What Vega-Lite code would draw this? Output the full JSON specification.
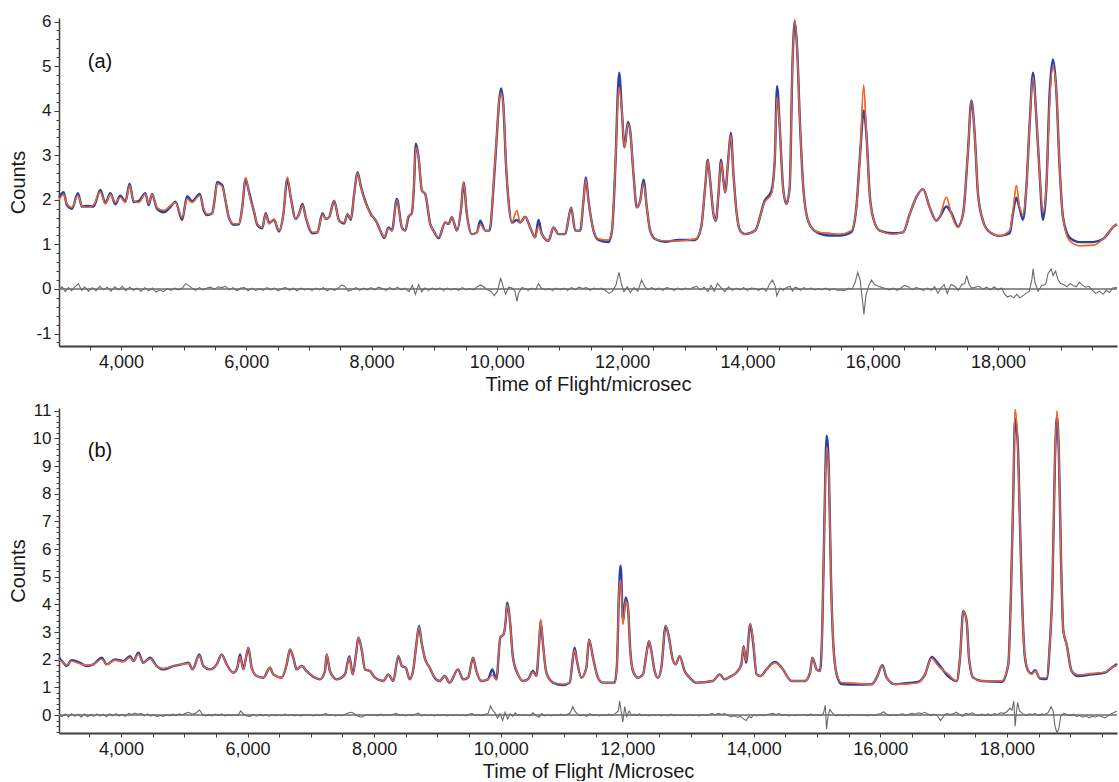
{
"$schema": "https://vega.github.io/schema/vega-lite/v6.json",
"padding": {"left": 8, "top": 12, "right": 2, "bottom": 0},
"spacing": 7,
"config": {
  "font": "Liberation Sans",
  "view": {"stroke": null},
  "axis": {"grid": false, "labelFont": "Liberation Sans", "titleFont": "Liberation Sans", "labelColor": "#1a1a1a", "titleColor": "#1a1a1a", "titleFontWeight": "normal", "domainColor": "#3c3c3c", "tickColor": "#3c3c3c", "labelOverlap": false, "labelFlush": false}
},
"datasets": {
"a": [
{"t":3010,"f":2.0,"o":2.05},{"t":3085,"f":2.12,"o":2.17},{"t":3136,"f":1.91,"o":1.88},{"t":3216,"f":1.83,"o":1.8},{"t":3312,"f":2.1,"o":2.15},{"t":3376,"f":1.87,"o":1.85},{"t":3456,"f":1.83,"o":1.86},{"t":3563,"f":1.89,"o":1.85},{"t":3670,"f":2.18,"o":2.22},{"t":3750,"f":1.91,"o":1.93},{"t":3830,"f":2.12,"o":2.15},{"t":3909,"f":1.94,"o":1.9},{"t":3989,"f":2.06,"o":2.09},{"t":4069,"f":1.94,"o":1.96},{"t":4138,"f":2.32,"o":2.36},{"t":4202,"f":1.98,"o":1.95},{"t":4282,"f":1.94,"o":1.97},{"t":4389,"f":2.13,"o":2.15},{"t":4442,"f":1.91,"o":1.88},{"t":4495,"f":2.12,"o":2.13},{"t":4575,"f":1.83,"o":1.8},{"t":4682,"f":1.76,"o":1.72},{"t":4789,"f":1.87,"o":1.84},{"t":4869,"f":1.94,"o":1.96},{"t":4975,"f":1.6,"o":1.55},{"t":5055,"f":2.02,"o":2.08},{"t":5135,"f":1.94,"o":1.97},{"t":5258,"f":2.1,"o":2.13},{"t":5322,"f":1.79,"o":1.76},{"t":5375,"f":1.68,"o":1.66},{"t":5455,"f":1.68,"o":1.7},{"t":5492,"f":1.98,"o":1.98},{"t":5535,"f":2.36,"o":2.4},{"t":5615,"f":2.3,"o":2.33},{"t":5668,"f":1.98,"o":1.98},{"t":5722,"f":1.61,"o":1.6},{"t":5802,"f":1.46,"o":1.44},{"t":5882,"f":1.46,"o":1.45},{"t":5935,"f":1.83,"o":1.83},{"t":5989,"f":2.5,"o":2.47},{"t":6026,"f":2.28,"o":2.28},{"t":6069,"f":1.98,"o":2.03},{"t":6122,"f":1.76,"o":1.74},{"t":6175,"f":1.46,"o":1.44},{"t":6255,"f":1.38,"o":1.36},{"t":6309,"f":1.68,"o":1.7},{"t":6362,"f":1.46,"o":1.48},{"t":6442,"f":1.57,"o":1.55},{"t":6522,"f":1.31,"o":1.29},{"t":6592,"f":1.68,"o":1.68},{"t":6655,"f":2.51,"o":2.47},{"t":6709,"f":2.06,"o":2.06},{"t":6789,"f":1.57,"o":1.57},{"t":6842,"f":1.68,"o":1.68},{"t":6896,"f":1.88,"o":1.91},{"t":6949,"f":1.61,"o":1.61},{"t":7056,"f":1.27,"o":1.25},{"t":7136,"f":1.27,"o":1.27},{"t":7216,"f":1.68,"o":1.7},{"t":7269,"f":1.57,"o":1.57},{"t":7322,"f":1.61,"o":1.61},{"t":7402,"f":1.98,"o":1.98},{"t":7482,"f":1.53,"o":1.53},{"t":7562,"f":1.49,"o":1.47},{"t":7615,"f":1.68,"o":1.68},{"t":7669,"f":1.57,"o":1.55},{"t":7722,"f":2.13,"o":2.13},{"t":7775,"f":2.6,"o":2.62},{"t":7829,"f":2.28,"o":2.3},{"t":7909,"f":1.91,"o":1.93},{"t":7989,"f":1.68,"o":1.68},{"t":8069,"f":1.53,"o":1.53},{"t":8149,"f":1.28,"o":1.28},{"t":8202,"f":1.16,"o":1.14},{"t":8271,"f":1.36,"o":1.38},{"t":8324,"f":1.31,"o":1.31},{"t":8404,"f":2.0,"o":2.02},{"t":8484,"f":1.38,"o":1.38},{"t":8537,"f":1.31,"o":1.31},{"t":8590,"f":1.64,"o":1.62},{"t":8643,"f":1.68,"o":1.7},{"t":8675,"f":2.28,"o":2.26},{"t":8707,"f":3.18,"o":3.26},{"t":8750,"f":2.96,"o":2.96},{"t":8803,"f":2.21,"o":2.21},{"t":8856,"f":2.13,"o":2.13},{"t":8936,"f":1.46,"o":1.46},{"t":8989,"f":1.31,"o":1.31},{"t":9069,"f":1.16,"o":1.14},{"t":9175,"f":1.49,"o":1.49},{"t":9229,"f":1.46,"o":1.46},{"t":9282,"f":1.61,"o":1.61},{"t":9362,"f":1.31,"o":1.31},{"t":9431,"f":1.83,"o":1.83},{"t":9468,"f":2.39,"o":2.39},{"t":9521,"f":1.68,"o":1.68},{"t":9601,"f":1.23,"o":1.23},{"t":9681,"f":1.27,"o":1.27},{"t":9734,"f":1.45,"o":1.53},{"t":9814,"f":1.31,"o":1.31},{"t":9883,"f":1.31,"o":1.31},{"t":9947,"f":2.36,"o":2.3},{"t":10000,"f":3.48,"o":3.45},{"t":10037,"f":4.23,"o":4.23},{"t":10069,"f":4.4,"o":4.5},{"t":10106,"f":4.08,"o":4.08},{"t":10144,"f":2.88,"o":2.85},{"t":10186,"f":1.98,"o":1.98},{"t":10239,"f":1.49,"o":1.49},{"t":10319,"f":1.76,"o":1.55},{"t":10372,"f":1.49,"o":1.49},{"t":10452,"f":1.62,"o":1.62},{"t":10532,"f":1.38,"o":1.38},{"t":10612,"f":1.16,"o":1.16},{"t":10665,"f":1.4,"o":1.55},{"t":10718,"f":1.23,"o":1.23},{"t":10825,"f":1.08,"o":1.08},{"t":10904,"f":1.38,"o":1.38},{"t":10984,"f":1.23,"o":1.23},{"t":11091,"f":1.23,"o":1.23},{"t":11186,"f":1.83,"o":1.83},{"t":11250,"f":1.31,"o":1.31},{"t":11330,"f":1.31,"o":1.31},{"t":11383,"f":1.98,"o":1.98},{"t":11420,"f":2.45,"o":2.51},{"t":11463,"f":1.98,"o":1.98},{"t":11543,"f":1.31,"o":1.31},{"t":11623,"f":1.12,"o":1.1},{"t":11782,"f":1.1,"o":1.05},{"t":11835,"f":1.31,"o":1.28},{"t":11899,"f":3.03,"o":3.03},{"t":11931,"f":4.23,"o":4.4},{"t":11952,"f":4.53,"o":4.85},{"t":11995,"f":4.01,"o":4.01},{"t":12038,"f":3.18,"o":3.18},{"t":12091,"f":3.71,"o":3.75},{"t":12128,"f":3.56,"o":3.56},{"t":12181,"f":2.58,"o":2.58},{"t":12234,"f":1.83,"o":1.83},{"t":12288,"f":1.98,"o":1.98},{"t":12341,"f":2.38,"o":2.45},{"t":12394,"f":1.83,"o":1.83},{"t":12447,"f":1.31,"o":1.31},{"t":12527,"f":1.12,"o":1.12},{"t":12687,"f":1.08,"o":1.06},{"t":12899,"f":1.08,"o":1.1},{"t":13165,"f":1.12,"o":1.1},{"t":13261,"f":1.38,"o":1.38},{"t":13325,"f":2.28,"o":2.28},{"t":13368,"f":2.88,"o":2.9},{"t":13405,"f":2.43,"o":2.43},{"t":13458,"f":1.68,"o":1.68},{"t":13495,"f":1.53,"o":1.53},{"t":13538,"f":2.13,"o":2.13},{"t":13580,"f":2.85,"o":2.9},{"t":13618,"f":2.43,"o":2.43},{"t":13644,"f":2.17,"o":2.17},{"t":13697,"f":2.96,"o":2.96},{"t":13735,"f":3.45,"o":3.5},{"t":13777,"f":2.58,"o":2.58},{"t":13830,"f":1.68,"o":1.68},{"t":13884,"f":1.31,"o":1.31},{"t":13963,"f":1.23,"o":1.23},{"t":14123,"f":1.31,"o":1.31},{"t":14276,"f":1.95,"o":1.98},{"t":14383,"f":2.13,"o":2.2},{"t":14436,"f":2.88,"o":2.88},{"t":14473,"f":4.31,"o":4.55},{"t":14516,"f":3.63,"o":3.63},{"t":14569,"f":2.28,"o":2.28},{"t":14622,"f":1.91,"o":1.91},{"t":14675,"f":2.28,"o":2.28},{"t":14718,"f":4.98,"o":4.98},{"t":14755,"f":6.04,"o":6.0},{"t":14792,"f":5.44,"o":5.44},{"t":14835,"f":3.86,"o":3.86},{"t":14888,"f":2.36,"o":2.36},{"t":14941,"f":1.68,"o":1.68},{"t":15021,"f":1.38,"o":1.38},{"t":15154,"f":1.27,"o":1.24},{"t":15300,"f":1.25,"o":1.2},{"t":15473,"f":1.23,"o":1.2},{"t":15660,"f":1.31,"o":1.28},{"t":15739,"f":1.83,"o":1.83},{"t":15803,"f":3.11,"o":3.11},{"t":15856,"f":4.57,"o":4.0},{"t":15899,"f":3.48,"o":3.48},{"t":15952,"f":2.13,"o":2.13},{"t":16005,"f":1.61,"o":1.61},{"t":16112,"f":1.31,"o":1.31},{"t":16325,"f":1.23,"o":1.25},{"t":16484,"f":1.27,"o":1.27},{"t":16591,"f":1.68,"o":1.68},{"t":16697,"f":2.06,"o":2.06},{"t":16803,"f":2.24,"o":2.24},{"t":16910,"f":1.83,"o":1.83},{"t":17016,"f":1.53,"o":1.53},{"t":17069,"f":1.61,"o":1.61},{"t":17176,"f":2.06,"o":1.85},{"t":17256,"f":1.68,"o":1.7},{"t":17362,"f":1.38,"o":1.4},{"t":17442,"f":1.68,"o":1.68},{"t":17522,"f":3.11,"o":3.11},{"t":17575,"f":4.23,"o":4.23},{"t":17628,"f":3.48,"o":3.48},{"t":17681,"f":2.13,"o":2.13},{"t":17761,"f":1.53,"o":1.53},{"t":17841,"f":1.31,"o":1.31},{"t":18027,"f":1.19,"o":1.19},{"t":18187,"f":1.31,"o":1.25},{"t":18240,"f":1.76,"o":1.7},{"t":18293,"f":2.32,"o":2.05},{"t":18346,"f":1.83,"o":1.8},{"t":18399,"f":1.68,"o":1.55},{"t":18453,"f":2.28,"o":2.28},{"t":18506,"f":3.71,"o":3.71},{"t":18559,"f":4.76,"o":4.85},{"t":18612,"f":3.86,"o":3.86},{"t":18665,"f":2.58,"o":2.58},{"t":18718,"f":1.72,"o":1.55},{"t":18772,"f":2.28,"o":2.28},{"t":18825,"f":4.23,"o":4.4},{"t":18878,"f":4.98,"o":5.15},{"t":18931,"f":4.46,"o":4.46},{"t":18984,"f":2.73,"o":2.73},{"t":19038,"f":1.61,"o":1.61},{"t":19144,"f":1.08,"o":1.15},{"t":19304,"f":0.97,"o":1.05},{"t":19517,"f":0.98,"o":1.05},{"t":19676,"f":1.12,"o":1.12},{"t":19862,"f":1.42,"o":1.42},{"t":19900,"f":1.45,"o":1.45}
],
"b": [
{"t":3020,"f":2.0,"o":2.07},{"t":3089,"f":1.89,"o":1.89},{"t":3141,"f":1.8,"o":1.77},{"t":3220,"f":1.95,"o":1.98},{"t":3352,"f":1.85,"o":1.89},{"t":3458,"f":1.8,"o":1.77},{"t":3563,"f":1.83,"o":1.83},{"t":3695,"f":2.02,"o":2.07},{"t":3774,"f":1.83,"o":1.83},{"t":3905,"f":1.98,"o":2.01},{"t":4037,"f":1.93,"o":1.95},{"t":4142,"f":2.08,"o":2.13},{"t":4195,"f":1.95,"o":1.95},{"t":4274,"f":2.2,"o":2.25},{"t":4353,"f":1.89,"o":1.89},{"t":4458,"f":2.04,"o":2.07},{"t":4564,"f":1.77,"o":1.77},{"t":4669,"f":1.68,"o":1.65},{"t":4827,"f":1.77,"o":1.77},{"t":4959,"f":1.83,"o":1.83},{"t":5064,"f":1.87,"o":1.89},{"t":5132,"f":1.65,"o":1.65},{"t":5238,"f":2.15,"o":2.19},{"t":5301,"f":1.77,"o":1.77},{"t":5406,"f":1.65,"o":1.65},{"t":5512,"f":1.83,"o":1.83},{"t":5591,"f":2.19,"o":2.19},{"t":5670,"f":1.83,"o":1.83},{"t":5775,"f":1.53,"o":1.53},{"t":5838,"f":1.71,"o":1.71},{"t":5880,"f":2.12,"o":2.19},{"t":5933,"f":1.65,"o":1.65},{"t":5975,"f":2.07,"o":2.07},{"t":6012,"f":2.43,"o":2.43},{"t":6065,"f":1.71,"o":1.71},{"t":6144,"f":1.41,"o":1.41},{"t":6249,"f":1.35,"o":1.35},{"t":6354,"f":1.71,"o":1.71},{"t":6407,"f":1.47,"o":1.47},{"t":6539,"f":1.35,"o":1.35},{"t":6618,"f":1.83,"o":1.83},{"t":6670,"f":2.37,"o":2.37},{"t":6723,"f":2.07,"o":2.07},{"t":6776,"f":1.65,"o":1.65},{"t":6855,"f":1.77,"o":1.77},{"t":6934,"f":1.59,"o":1.59},{"t":7065,"f":1.35,"o":1.35},{"t":7144,"f":1.29,"o":1.29},{"t":7223,"f":1.59,"o":1.59},{"t":7250,"f":2.19,"o":2.19},{"t":7302,"f":1.59,"o":1.59},{"t":7408,"f":1.29,"o":1.29},{"t":7539,"f":1.47,"o":1.47},{"t":7608,"f":2.08,"o":2.13},{"t":7661,"f":1.47,"o":1.47},{"t":7713,"f":2.19,"o":2.19},{"t":7750,"f":2.8,"o":2.8},{"t":7803,"f":2.37,"o":2.37},{"t":7855,"f":1.65,"o":1.65},{"t":7934,"f":1.59,"o":1.59},{"t":8013,"f":1.35,"o":1.35},{"t":8145,"f":1.23,"o":1.23},{"t":8224,"f":1.47,"o":1.47},{"t":8303,"f":1.23,"o":1.23},{"t":8382,"f":2.13,"o":2.13},{"t":8440,"f":1.77,"o":1.77},{"t":8500,"f":1.71,"o":1.71},{"t":8562,"f":1.29,"o":1.29},{"t":8615,"f":1.59,"o":1.59},{"t":8667,"f":2.55,"o":2.55},{"t":8710,"f":3.18,"o":3.22},{"t":8747,"f":2.67,"o":2.67},{"t":8799,"f":2.07,"o":2.07},{"t":8878,"f":1.71,"o":1.71},{"t":8957,"f":1.35,"o":1.35},{"t":9036,"f":1.23,"o":1.23},{"t":9115,"f":1.41,"o":1.41},{"t":9194,"f":1.17,"o":1.17},{"t":9326,"f":1.65,"o":1.65},{"t":9405,"f":1.29,"o":1.29},{"t":9484,"f":1.35,"o":1.35},{"t":9563,"f":2.07,"o":2.07},{"t":9616,"f":1.59,"o":1.59},{"t":9695,"f":1.23,"o":1.23},{"t":9800,"f":1.29,"o":1.29},{"t":9868,"f":1.45,"o":1.65},{"t":9932,"f":1.29,"o":1.29},{"t":9995,"f":2.8,"o":2.8},{"t":10047,"f":2.92,"o":2.92},{"t":10079,"f":3.4,"o":3.4},{"t":10100,"f":4.0,"o":4.06},{"t":10142,"f":3.52,"o":3.52},{"t":10195,"f":2.07,"o":2.07},{"t":10274,"f":1.47,"o":1.47},{"t":10353,"f":1.23,"o":1.23},{"t":10432,"f":1.29,"o":1.29},{"t":10511,"f":1.55,"o":1.59},{"t":10564,"f":1.41,"o":1.41},{"t":10606,"f":2.55,"o":2.55},{"t":10632,"f":3.46,"o":3.4},{"t":10669,"f":2.55,"o":2.55},{"t":10722,"f":1.53,"o":1.53},{"t":10827,"f":1.17,"o":1.17},{"t":10985,"f":1.11,"o":1.08},{"t":11090,"f":1.17,"o":1.17},{"t":11143,"f":2.07,"o":2.07},{"t":11169,"f":2.35,"o":2.43},{"t":11206,"f":1.95,"o":1.95},{"t":11275,"f":1.35,"o":1.35},{"t":11354,"f":1.71,"o":1.71},{"t":11396,"f":2.73,"o":2.73},{"t":11459,"f":2.07,"o":2.07},{"t":11538,"f":1.35,"o":1.35},{"t":11617,"f":1.17,"o":1.17},{"t":11801,"f":1.17,"o":1.17},{"t":11838,"f":1.83,"o":1.83},{"t":11870,"f":4.48,"o":4.48},{"t":11896,"f":4.9,"o":5.4},{"t":11933,"f":3.28,"o":3.4},{"t":11975,"f":4.12,"o":4.25},{"t":12012,"f":3.88,"o":3.88},{"t":12049,"f":2.31,"o":2.31},{"t":12091,"f":1.59,"o":1.59},{"t":12170,"f":1.35,"o":1.35},{"t":12249,"f":1.47,"o":1.47},{"t":12302,"f":2.19,"o":2.19},{"t":12344,"f":2.67,"o":2.67},{"t":12381,"f":2.31,"o":2.31},{"t":12433,"f":1.59,"o":1.59},{"t":12486,"f":1.35,"o":1.35},{"t":12539,"f":1.71,"o":1.71},{"t":12607,"f":3.22,"o":3.22},{"t":12660,"f":2.8,"o":2.8},{"t":12713,"f":2.07,"o":2.07},{"t":12765,"f":1.83,"o":1.83},{"t":12828,"f":2.13,"o":2.13},{"t":12907,"f":1.59,"o":1.59},{"t":12986,"f":1.35,"o":1.35},{"t":13092,"f":1.17,"o":1.17},{"t":13355,"f":1.23,"o":1.23},{"t":13460,"f":1.47,"o":1.47},{"t":13539,"f":1.29,"o":1.29},{"t":13645,"f":1.41,"o":1.41},{"t":13724,"f":1.53,"o":1.53},{"t":13803,"f":1.83,"o":1.83},{"t":13840,"f":2.45,"o":2.49},{"t":13877,"f":1.95,"o":1.89},{"t":13945,"f":3.28,"o":3.28},{"t":13990,"f":2.7,"o":2.6},{"t":14045,"f":1.47,"o":1.47},{"t":14110,"f":1.41,"o":1.41},{"t":14200,"f":1.65,"o":1.65},{"t":14336,"f":1.89,"o":1.92},{"t":14441,"f":1.71,"o":1.71},{"t":14599,"f":1.23,"o":1.23},{"t":14810,"f":1.23,"o":1.23},{"t":14889,"f":1.53,"o":1.53},{"t":14926,"f":2.07,"o":2.07},{"t":14994,"f":1.65,"o":1.65},{"t":15047,"f":1.59,"o":1.59},{"t":15084,"f":3.28,"o":3.28},{"t":15115,"f":6.89,"o":6.89},{"t":15152,"f":9.72,"o":10.1},{"t":15189,"f":8.58,"o":8.58},{"t":15220,"f":4.96,"o":4.96},{"t":15257,"f":2.55,"o":2.55},{"t":15310,"f":1.47,"o":1.47},{"t":15389,"f":1.17,"o":1.12},{"t":15600,"f":1.15,"o":1.1},{"t":15863,"f":1.11,"o":1.11},{"t":15942,"f":1.35,"o":1.35},{"t":16032,"f":1.77,"o":1.8},{"t":16100,"f":1.35,"o":1.35},{"t":16232,"f":1.11,"o":1.11},{"t":16400,"f":1.12,"o":1.15},{"t":16600,"f":1.17,"o":1.2},{"t":16706,"f":1.47,"o":1.47},{"t":16811,"f":2.05,"o":2.1},{"t":16916,"f":1.77,"o":1.85},{"t":17074,"f":1.47,"o":1.4},{"t":17206,"f":1.23,"o":1.23},{"t":17259,"f":2.07,"o":2.07},{"t":17311,"f":3.76,"o":3.76},{"t":17364,"f":3.4,"o":3.4},{"t":17401,"f":2.07,"o":2.07},{"t":17469,"f":1.35,"o":1.35},{"t":17601,"f":1.23,"o":1.23},{"t":17917,"f":1.23,"o":1.2},{"t":18022,"f":1.83,"o":1.83},{"t":18065,"f":4.48,"o":4.48},{"t":18102,"f":8.1,"o":8.1},{"t":18128,"f":11.05,"o":10.7},{"t":18170,"f":9.9,"o":9.9},{"t":18207,"f":6.89,"o":6.89},{"t":18244,"f":3.88,"o":3.88},{"t":18286,"f":2.07,"o":2.07},{"t":18339,"f":1.59,"o":1.59},{"t":18391,"f":1.47,"o":1.5},{"t":18444,"f":1.59,"o":1.62},{"t":18523,"f":1.35,"o":1.32},{"t":18628,"f":1.35,"o":1.3},{"t":18681,"f":2.67,"o":2.67},{"t":18718,"f":4.48,"o":4.48},{"t":18760,"f":9.3,"o":9.3},{"t":18792,"f":10.99,"o":10.8},{"t":18823,"f":9.3,"o":9.3},{"t":18855,"f":5.69,"o":5.69},{"t":18892,"f":3.04,"o":3.04},{"t":18944,"f":2.55,"o":2.55},{"t":19023,"f":1.59,"o":1.59},{"t":19129,"f":1.45,"o":1.41},{"t":19339,"f":1.5,"o":1.47},{"t":19550,"f":1.55,"o":1.53},{"t":19655,"f":1.71,"o":1.71},{"t":19740,"f":1.8,"o":1.85}
],
"da": [
{"t":3010,"d":-0.02},{"t":3060,"d":0.05},{"t":3110,"d":-0.06},{"t":3160,"d":0.03},{"t":3210,"d":-0.04},{"t":3260,"d":0.04},{"t":3320,"d":0.12},{"t":3370,"d":-0.03},{"t":3420,"d":0.05},{"t":3480,"d":-0.05},{"t":3540,"d":0.03},{"t":3600,"d":-0.04},{"t":3660,"d":0.06},{"t":3720,"d":-0.02},{"t":3780,"d":0.04},{"t":3840,"d":-0.05},{"t":3900,"d":0.05},{"t":3960,"d":-0.02},{"t":4020,"d":0.06},{"t":4080,"d":-0.04},{"t":4140,"d":0.04},{"t":4200,"d":-0.03},{"t":4260,"d":0.02},{"t":4320,"d":-0.05},{"t":4380,"d":0.03},{"t":4440,"d":-0.04},{"t":4500,"d":0.02},{"t":4560,"d":-0.07},{"t":4620,"d":-0.02},{"t":4680,"d":-0.06},{"t":4740,"d":0.01},{"t":4800,"d":-0.03},{"t":4860,"d":0.02},{"t":4920,"d":-0.02},{"t":4980,"d":0.02},{"t":5030,"d":0.12},{"t":5080,"d":0.08},{"t":5130,"d":0.02},{"t":5190,"d":-0.03},{"t":5250,"d":0.03},{"t":5310,"d":-0.02},{"t":5370,"d":0.02},{"t":5430,"d":0.04},{"t":5490,"d":-0.01},{"t":5550,"d":0.05},{"t":5610,"d":0.03},{"t":5670,"d":0.06},{"t":5730,"d":-0.02},{"t":5790,"d":0.03},{"t":5850,"d":-0.04},{"t":5910,"d":0.02},{"t":5970,"d":0.03},{"t":6030,"d":-0.04},{"t":6090,"d":0.02},{"t":6150,"d":-0.03},{"t":6210,"d":0.01},{"t":6270,"d":-0.03},{"t":6330,"d":0.03},{"t":6390,"d":-0.02},{"t":6450,"d":0.02},{"t":6510,"d":-0.04},{"t":6570,"d":0.01},{"t":6630,"d":0.03},{"t":6690,"d":-0.03},{"t":6750,"d":0.02},{"t":6810,"d":-0.04},{"t":6870,"d":0.02},{"t":6930,"d":-0.02},{"t":6990,"d":0.01},{"t":7050,"d":-0.03},{"t":7110,"d":0.02},{"t":7170,"d":-0.02},{"t":7230,"d":0.03},{"t":7290,"d":-0.04},{"t":7350,"d":0.01},{"t":7410,"d":-0.03},{"t":7470,"d":0.02},{"t":7520,"d":0.09},{"t":7570,"d":0.06},{"t":7630,"d":-0.05},{"t":7690,"d":-0.02},{"t":7750,"d":0.03},{"t":7810,"d":-0.03},{"t":7870,"d":0.02},{"t":7930,"d":-0.02},{"t":7990,"d":0.03},{"t":8050,"d":-0.02},{"t":8110,"d":0.04},{"t":8170,"d":0.01},{"t":8230,"d":-0.03},{"t":8290,"d":0.03},{"t":8350,"d":-0.02},{"t":8410,"d":0.04},{"t":8470,"d":-0.02},{"t":8530,"d":0.02},{"t":8600,"d":-0.06},{"t":8650,"d":0.08},{"t":8700,"d":-0.12},{"t":8750,"d":0.1},{"t":8800,"d":-0.06},{"t":8850,"d":0.02},{"t":8910,"d":-0.03},{"t":8970,"d":0.02},{"t":9030,"d":-0.02},{"t":9090,"d":0.02},{"t":9150,"d":-0.03},{"t":9210,"d":0.02},{"t":9270,"d":-0.02},{"t":9330,"d":0.01},{"t":9390,"d":-0.03},{"t":9450,"d":0.03},{"t":9510,"d":-0.02},{"t":9570,"d":0.01},{"t":9630,"d":-0.02},{"t":9690,"d":0.05},{"t":9740,"d":0.09},{"t":9790,"d":0.05},{"t":9850,"d":-0.02},{"t":9910,"d":-0.06},{"t":9960,"d":-0.15},{"t":10010,"d":-0.05},{"t":10060,"d":0.25},{"t":10100,"d":0.05},{"t":10140,"d":-0.12},{"t":10190,"d":0.04},{"t":10240,"d":0.02},{"t":10290,"d":-0.05},{"t":10320,"d":-0.28},{"t":10350,"d":-0.08},{"t":10400,"d":0.03},{"t":10450,"d":0.01},{"t":10500,"d":-0.03},{"t":10560,"d":0.02},{"t":10620,"d":-0.02},{"t":10665,"d":0.12},{"t":10710,"d":0.02},{"t":10770,"d":-0.02},{"t":10830,"d":0.01},{"t":10890,"d":-0.03},{"t":10950,"d":0.02},{"t":11010,"d":-0.02},{"t":11070,"d":0.02},{"t":11130,"d":-0.03},{"t":11190,"d":0.03},{"t":11250,"d":-0.02},{"t":11310,"d":0.04},{"t":11370,"d":0.01},{"t":11430,"d":0.03},{"t":11490,"d":-0.03},{"t":11550,"d":0.02},{"t":11610,"d":-0.01},{"t":11670,"d":0.02},{"t":11730,"d":-0.03},{"t":11790,"d":-0.1},{"t":11840,"d":-0.06},{"t":11900,"d":0.08},{"t":11950,"d":0.37},{"t":11990,"d":0.1},{"t":12030,"d":-0.06},{"t":12080,"d":0.05},{"t":12130,"d":-0.08},{"t":12190,"d":0.03},{"t":12250,"d":-0.05},{"t":12310,"d":0.2},{"t":12360,"d":0.05},{"t":12410,"d":-0.02},{"t":12470,"d":0.03},{"t":12530,"d":-0.02},{"t":12590,"d":0.02},{"t":12650,"d":-0.03},{"t":12710,"d":0.03},{"t":12770,"d":0.01},{"t":12830,"d":-0.03},{"t":12890,"d":0.02},{"t":12950,"d":-0.02},{"t":13010,"d":0.02},{"t":13070,"d":-0.01},{"t":13130,"d":0.03},{"t":13190,"d":0.06},{"t":13250,"d":-0.02},{"t":13310,"d":0.04},{"t":13370,"d":-0.06},{"t":13420,"d":0.08},{"t":13470,"d":-0.05},{"t":13520,"d":0.12},{"t":13580,"d":0.03},{"t":13640,"d":-0.06},{"t":13700,"d":0.05},{"t":13760,"d":-0.03},{"t":13820,"d":0.02},{"t":13880,"d":-0.02},{"t":13940,"d":0.03},{"t":14000,"d":-0.03},{"t":14060,"d":0.02},{"t":14120,"d":0.01},{"t":14180,"d":-0.03},{"t":14240,"d":0.02},{"t":14300,"d":-0.05},{"t":14350,"d":0.1},{"t":14400,"d":0.2},{"t":14440,"d":0.08},{"t":14470,"d":-0.16},{"t":14520,"d":0.02},{"t":14570,"d":-0.03},{"t":14620,"d":0.03},{"t":14680,"d":0.06},{"t":14720,"d":-0.05},{"t":14760,"d":0.04},{"t":14800,"d":0.02},{"t":14850,"d":-0.03},{"t":14900,"d":0.03},{"t":14950,"d":-0.01},{"t":15010,"d":0.02},{"t":15070,"d":-0.02},{"t":15130,"d":0.01},{"t":15190,"d":-0.02},{"t":15250,"d":0.02},{"t":15310,"d":-0.03},{"t":15370,"d":0.01},{"t":15430,"d":-0.03},{"t":15490,"d":-0.02},{"t":15550,"d":-0.04},{"t":15610,"d":0.02},{"t":15670,"d":-0.01},{"t":15720,"d":0.15},{"t":15760,"d":0.37},{"t":15800,"d":0.2},{"t":15840,"d":-0.3},{"t":15860,"d":-0.57},{"t":15890,"d":-0.15},{"t":15940,"d":0.08},{"t":15980,"d":0.2},{"t":16030,"d":0.1},{"t":16090,"d":0.06},{"t":16150,"d":0.03},{"t":16210,"d":0.01},{"t":16270,"d":-0.02},{"t":16330,"d":0.02},{"t":16390,"d":-0.03},{"t":16450,"d":0.02},{"t":16510,"d":0.08},{"t":16570,"d":0.05},{"t":16630,"d":-0.02},{"t":16690,"d":0.03},{"t":16750,"d":0.01},{"t":16810,"d":-0.03},{"t":16870,"d":0.02},{"t":16930,"d":-0.03},{"t":16990,"d":0.05},{"t":17040,"d":-0.1},{"t":17090,"d":0.02},{"t":17140,"d":0.1},{"t":17190,"d":-0.1},{"t":17250,"d":0.1},{"t":17310,"d":0.06},{"t":17370,"d":-0.03},{"t":17420,"d":0.1},{"t":17470,"d":0.12},{"t":17500,"d":0.3},{"t":17540,"d":0.1},{"t":17580,"d":0.02},{"t":17640,"d":0.04},{"t":17700,"d":0.06},{"t":17760,"d":-0.01},{"t":17820,"d":0.04},{"t":17880,"d":-0.02},{"t":17940,"d":0.05},{"t":18000,"d":-0.02},{"t":18060,"d":0.02},{"t":18100,"d":-0.1},{"t":18150,"d":-0.18},{"t":18200,"d":-0.15},{"t":18250,"d":-0.2},{"t":18300,"d":-0.12},{"t":18350,"d":-0.2},{"t":18400,"d":-0.15},{"t":18450,"d":-0.1},{"t":18500,"d":-0.05},{"t":18540,"d":0.2},{"t":18560,"d":0.45},{"t":18590,"d":0.15},{"t":18640,"d":-0.05},{"t":18700,"d":0.08},{"t":18760,"d":0.1},{"t":18800,"d":0.35},{"t":18850,"d":0.45},{"t":18880,"d":0.3},{"t":18920,"d":0.4},{"t":18960,"d":0.2},{"t":19000,"d":0.12},{"t":19050,"d":0.1},{"t":19100,"d":0.05},{"t":19150,"d":0.12},{"t":19200,"d":0.08},{"t":19250,"d":0.05},{"t":19300,"d":0.15},{"t":19350,"d":0.08},{"t":19400,"d":0.04},{"t":19450,"d":0.06},{"t":19500,"d":-0.02},{"t":19560,"d":-0.1},{"t":19620,"d":-0.05},{"t":19680,"d":-0.12},{"t":19730,"d":-0.03},{"t":19780,"d":-0.08},{"t":19830,"d":0.02},{"t":19900,"d":0.03}
],
"db": [
{"t":3020,"d":0.0},{"t":3070,"d":-0.06},{"t":3120,"d":0.04},{"t":3170,"d":-0.07},{"t":3220,"d":0.05},{"t":3270,"d":-0.05},{"t":3320,"d":0.03},{"t":3370,"d":-0.08},{"t":3420,"d":0.04},{"t":3470,"d":-0.06},{"t":3520,"d":0.02},{"t":3570,"d":-0.05},{"t":3620,"d":0.04},{"t":3670,"d":-0.04},{"t":3720,"d":0.03},{"t":3770,"d":-0.06},{"t":3820,"d":0.04},{"t":3870,"d":-0.03},{"t":3920,"d":0.05},{"t":3970,"d":-0.04},{"t":4020,"d":0.02},{"t":4070,"d":-0.05},{"t":4120,"d":0.06},{"t":4170,"d":0.02},{"t":4220,"d":0.07},{"t":4270,"d":0.03},{"t":4320,"d":0.06},{"t":4370,"d":-0.03},{"t":4420,"d":0.04},{"t":4470,"d":-0.04},{"t":4520,"d":0.02},{"t":4570,"d":-0.06},{"t":4620,"d":-0.02},{"t":4670,"d":-0.05},{"t":4720,"d":0.02},{"t":4770,"d":-0.03},{"t":4820,"d":0.03},{"t":4870,"d":-0.02},{"t":4920,"d":0.04},{"t":4970,"d":0.01},{"t":5020,"d":0.06},{"t":5070,"d":0.1},{"t":5120,"d":0.03},{"t":5170,"d":0.05},{"t":5240,"d":0.18},{"t":5290,"d":0.02},{"t":5340,"d":-0.03},{"t":5390,"d":0.02},{"t":5440,"d":-0.03},{"t":5490,"d":0.03},{"t":5540,"d":-0.02},{"t":5590,"d":0.04},{"t":5640,"d":-0.03},{"t":5690,"d":0.02},{"t":5740,"d":-0.02},{"t":5790,"d":0.02},{"t":5850,"d":-0.02},{"t":5890,"d":0.15},{"t":5940,"d":0.03},{"t":5990,"d":-0.03},{"t":6040,"d":-0.05},{"t":6090,"d":0.02},{"t":6140,"d":-0.04},{"t":6190,"d":0.02},{"t":6240,"d":-0.03},{"t":6290,"d":0.01},{"t":6340,"d":-0.04},{"t":6390,"d":0.02},{"t":6440,"d":-0.03},{"t":6490,"d":0.01},{"t":6540,"d":-0.02},{"t":6590,"d":0.03},{"t":6640,"d":-0.02},{"t":6690,"d":0.02},{"t":6740,"d":-0.03},{"t":6790,"d":0.01},{"t":6840,"d":-0.03},{"t":6890,"d":0.02},{"t":6940,"d":-0.02},{"t":6990,"d":0.02},{"t":7040,"d":-0.03},{"t":7090,"d":0.01},{"t":7140,"d":-0.02},{"t":7190,"d":0.02},{"t":7240,"d":0.05},{"t":7290,"d":-0.02},{"t":7340,"d":0.02},{"t":7390,"d":-0.03},{"t":7440,"d":0.01},{"t":7490,"d":-0.02},{"t":7540,"d":0.02},{"t":7600,"d":0.08},{"t":7650,"d":0.1},{"t":7700,"d":0.03},{"t":7750,"d":-0.04},{"t":7800,"d":-0.08},{"t":7850,"d":-0.03},{"t":7900,"d":0.02},{"t":7950,"d":-0.02},{"t":8000,"d":0.02},{"t":8050,"d":-0.03},{"t":8100,"d":0.03},{"t":8150,"d":-0.02},{"t":8200,"d":0.02},{"t":8250,"d":-0.01},{"t":8300,"d":0.03},{"t":8350,"d":0.06},{"t":8400,"d":-0.02},{"t":8450,"d":0.02},{"t":8500,"d":-0.03},{"t":8550,"d":0.02},{"t":8600,"d":-0.02},{"t":8650,"d":0.03},{"t":8700,"d":0.07},{"t":8750,"d":-0.03},{"t":8800,"d":0.02},{"t":8850,"d":-0.02},{"t":8900,"d":0.01},{"t":8950,"d":-0.03},{"t":9000,"d":0.02},{"t":9050,"d":-0.02},{"t":9100,"d":0.02},{"t":9150,"d":-0.03},{"t":9200,"d":0.01},{"t":9250,"d":-0.02},{"t":9300,"d":0.02},{"t":9350,"d":-0.02},{"t":9400,"d":0.01},{"t":9450,"d":-0.03},{"t":9500,"d":0.03},{"t":9550,"d":0.05},{"t":9600,"d":-0.02},{"t":9650,"d":0.02},{"t":9700,"d":-0.02},{"t":9750,"d":0.03},{"t":9800,"d":0.05},{"t":9840,"d":0.33},{"t":9870,"d":0.18},{"t":9910,"d":0.08},{"t":9950,"d":-0.12},{"t":9990,"d":0.05},{"t":10030,"d":-0.2},{"t":10070,"d":0.1},{"t":10110,"d":-0.15},{"t":10150,"d":0.05},{"t":10190,"d":-0.05},{"t":10230,"d":0.08},{"t":10270,"d":-0.02},{"t":10310,"d":0.02},{"t":10360,"d":-0.02},{"t":10410,"d":0.01},{"t":10460,"d":-0.03},{"t":10510,"d":0.08},{"t":10560,"d":-0.02},{"t":10610,"d":-0.08},{"t":10650,"d":0.05},{"t":10700,"d":-0.03},{"t":10750,"d":0.01},{"t":10800,"d":-0.03},{"t":10850,"d":0.02},{"t":10900,"d":-0.02},{"t":10950,"d":0.03},{"t":11000,"d":-0.02},{"t":11050,"d":0.02},{"t":11100,"d":0.08},{"t":11140,"d":0.3},{"t":11170,"d":0.15},{"t":11210,"d":0.04},{"t":11260,"d":-0.03},{"t":11310,"d":0.02},{"t":11360,"d":-0.05},{"t":11410,"d":0.05},{"t":11460,"d":-0.02},{"t":11510,"d":0.02},{"t":11560,"d":-0.03},{"t":11610,"d":0.02},{"t":11660,"d":-0.02},{"t":11710,"d":0.03},{"t":11760,"d":-0.02},{"t":11810,"d":0.05},{"t":11860,"d":0.15},{"t":11880,"d":0.5},{"t":11900,"d":0.2},{"t":11930,"d":-0.25},{"t":11960,"d":0.3},{"t":11990,"d":-0.05},{"t":12030,"d":0.15},{"t":12070,"d":-0.02},{"t":12110,"d":0.03},{"t":12150,"d":-0.02},{"t":12190,"d":0.04},{"t":12240,"d":-0.02},{"t":12290,"d":0.01},{"t":12340,"d":-0.03},{"t":12390,"d":0.02},{"t":12440,"d":-0.02},{"t":12490,"d":0.02},{"t":12540,"d":-0.03},{"t":12590,"d":0.01},{"t":12640,"d":-0.03},{"t":12690,"d":0.03},{"t":12740,"d":-0.02},{"t":12790,"d":0.02},{"t":12840,"d":-0.02},{"t":12890,"d":0.01},{"t":12940,"d":-0.02},{"t":12990,"d":0.02},{"t":13040,"d":-0.02},{"t":13090,"d":0.01},{"t":13140,"d":-0.03},{"t":13190,"d":0.02},{"t":13240,"d":-0.02},{"t":13290,"d":0.02},{"t":13340,"d":0.05},{"t":13390,"d":0.02},{"t":13440,"d":0.06},{"t":13490,"d":0.03},{"t":13540,"d":0.05},{"t":13590,"d":-0.02},{"t":13640,"d":-0.06},{"t":13690,"d":-0.03},{"t":13740,"d":-0.08},{"t":13790,"d":-0.05},{"t":13840,"d":-0.15},{"t":13880,"d":-0.2},{"t":13920,"d":-0.05},{"t":13960,"d":-0.1},{"t":14000,"d":0.02},{"t":14050,"d":-0.03},{"t":14100,"d":0.02},{"t":14150,"d":-0.02},{"t":14200,"d":0.01},{"t":14250,"d":0.04},{"t":14300,"d":0.06},{"t":14350,"d":0.02},{"t":14400,"d":0.05},{"t":14450,"d":-0.02},{"t":14500,"d":0.02},{"t":14550,"d":-0.03},{"t":14600,"d":0.01},{"t":14650,"d":-0.02},{"t":14700,"d":0.02},{"t":14750,"d":-0.01},{"t":14800,"d":0.02},{"t":14850,"d":-0.02},{"t":14900,"d":0.03},{"t":14950,"d":-0.02},{"t":15000,"d":0.02},{"t":15050,"d":-0.02},{"t":15100,"d":0.05},{"t":15130,"d":0.35},{"t":15150,"d":-0.5},{"t":15170,"d":-0.1},{"t":15200,"d":0.2},{"t":15250,"d":0.05},{"t":15300,"d":-0.03},{"t":15350,"d":0.02},{"t":15400,"d":-0.02},{"t":15450,"d":0.01},{"t":15500,"d":-0.03},{"t":15550,"d":0.02},{"t":15600,"d":-0.01},{"t":15650,"d":0.02},{"t":15700,"d":-0.02},{"t":15750,"d":0.01},{"t":15800,"d":-0.03},{"t":15850,"d":0.02},{"t":15900,"d":-0.02},{"t":15950,"d":0.03},{"t":16000,"d":0.04},{"t":16050,"d":0.12},{"t":16100,"d":0.03},{"t":16150,"d":-0.02},{"t":16200,"d":0.02},{"t":16250,"d":-0.02},{"t":16300,"d":0.02},{"t":16350,"d":0.04},{"t":16400,"d":-0.01},{"t":16450,"d":0.03},{"t":16500,"d":0.06},{"t":16550,"d":0.03},{"t":16600,"d":0.08},{"t":16650,"d":0.05},{"t":16700,"d":0.1},{"t":16750,"d":0.04},{"t":16800,"d":-0.02},{"t":16850,"d":0.03},{"t":16900,"d":-0.02},{"t":16950,"d":-0.2},{"t":17000,"d":-0.05},{"t":17050,"d":0.06},{"t":17100,"d":0.02},{"t":17150,"d":0.04},{"t":17200,"d":0.1},{"t":17250,"d":0.02},{"t":17300,"d":-0.05},{"t":17350,"d":0.06},{"t":17400,"d":0.03},{"t":17450,"d":0.08},{"t":17500,"d":0.02},{"t":17550,"d":-0.02},{"t":17600,"d":0.03},{"t":17650,"d":-0.02},{"t":17700,"d":0.04},{"t":17750,"d":-0.02},{"t":17800,"d":0.05},{"t":17850,"d":0.02},{"t":17900,"d":0.08},{"t":17950,"d":0.06},{"t":18000,"d":0.12},{"t":18050,"d":0.25},{"t":18080,"d":0.18},{"t":18110,"d":0.5},{"t":18130,"d":-0.4},{"t":18150,"d":0.1},{"t":18170,"d":0.45},{"t":18200,"d":0.15},{"t":18250,"d":0.05},{"t":18300,"d":-0.02},{"t":18350,"d":0.04},{"t":18400,"d":0.02},{"t":18450,"d":0.05},{"t":18500,"d":-0.02},{"t":18550,"d":0.04},{"t":18600,"d":0.02},{"t":18650,"d":0.08},{"t":18700,"d":0.3},{"t":18730,"d":0.15},{"t":18760,"d":-0.4},{"t":18790,"d":-0.65},{"t":18820,"d":-0.5},{"t":18850,"d":-0.05},{"t":18900,"d":0.06},{"t":18950,"d":0.02},{"t":19000,"d":-0.03},{"t":19050,"d":0.03},{"t":19100,"d":-0.05},{"t":19150,"d":-0.02},{"t":19200,"d":-0.08},{"t":19250,"d":-0.03},{"t":19300,"d":-0.1},{"t":19350,"d":-0.04},{"t":19400,"d":-0.08},{"t":19450,"d":-0.02},{"t":19500,"d":-0.06},{"t":19550,"d":-0.1},{"t":19600,"d":-0.03},{"t":19650,"d":0.05},{"t":19700,"d":0.1},{"t":19740,"d":0.15}
],
"la": [{"t":3665,"v":5.09,"s":"(a)"}],
"lb": [{"t":3668,"v":9.55,"s":"(b)"}]
},
"vconcat": [
{
  "width": 1058, "height": 328,
  "layer": [
    {"data": {"name": "a"}, "mark": {"type": "line", "color": "#f3672b", "strokeWidth": 1.4, "interpolate": "monotone"},
     "encoding": {
      "x": {"field": "t", "type": "quantitative", "scale": {"domain": [3010, 19900], "nice": false, "zero": false},
        "axis": {"title": "Time of Flight/microsec", "tickCount": 500, "values": [3500,4000,4500,5000,5500,6000,6500,7000,7500,8000,8500,9000,9500,10000,10500,11000,11500,12000,12500,13000,13500,14000,14500,15000,15500,16000,16500,17000,17500,18000,18500,19000,19500], "labelExpr": "(datum.value % 2000 == 0) ? format(datum.value, ',') : ''", "labelOverlap": false, "labelFontSize": 18, "titleFontSize": 20, "tickSize": 4, "labelPadding": 3, "titlePadding": 3, "domainWidth": 2, "tickWidth": 1}},
      "y": {"field": "f", "type": "quantitative", "scale": {"domain": [-1.28, 6.08], "nice": false, "zero": false},
        "axis": {"title": "Counts", "tickCount": 500, "values": [-1.2,-1,-0.8,-0.6,-0.4,-0.2,0,0.2,0.4,0.6,0.8,1,1.2,1.4,1.6,1.8,2,2.2,2.4,2.6,2.8,3,3.2,3.4,3.6,3.8,4,4.2,4.4,4.6,4.8,5,5.2,5.4,5.6,5.8,6], "labelExpr": "(abs(datum.value - round(datum.value)) < 0.001) ? ('' + round(datum.value)) : ''", "labelOverlap": false, "tickSize": {"condition": {"test": "abs(datum.value - round(datum.value)) < 0.001", "value": 5}, "value": 3}, "labelFontSize": 17, "titleFontSize": 20, "labelPadding": 3, "titlePadding": 4, "minExtent": 27, "maxExtent": 27, "domainWidth": 1.5}}}},
    {"data": {"name": "da"}, "mark": {"type": "rule", "color": "#8f8f8f", "strokeWidth": 1},
     "encoding": {"y": {"datum": 0, "type": "quantitative"}}},
    {"data": {"name": "da"}, "mark": {"type": "line", "color": "#6a6a6a", "strokeWidth": 1.1},
     "encoding": {"x": {"field": "t", "type": "quantitative"}, "y": {"field": "d", "type": "quantitative", "title": "Counts"}}},
    {"data": {"name": "a"}, "mark": {"type": "line", "color": "#2a40ad", "strokeWidth": 2.4, "interpolate": "monotone"},
     "encoding": {"x": {"field": "t", "type": "quantitative"}, "y": {"field": "o", "type": "quantitative", "title": "Counts"}}},
    {"data": {"name": "a"}, "mark": {"type": "line", "color": "#f3672b", "strokeWidth": 1.4, "interpolate": "monotone"},
     "encoding": {"x": {"field": "t", "type": "quantitative"}, "y": {"field": "f", "type": "quantitative", "title": "Counts"}}},
    {"data": {"name": "la"}, "mark": {"type": "text", "fontSize": 20, "color": "#111111", "font": "Liberation Sans"},
     "encoding": {"x": {"field": "t", "type": "quantitative"}, "y": {"field": "v", "type": "quantitative", "title": "Counts"}, "text": {"field": "s"}}}
  ]
},
{
  "width": 1058, "height": 325,
  "layer": [
    {"data": {"name": "b"}, "mark": {"type": "line", "color": "#f3672b", "strokeWidth": 1.4, "interpolate": "monotone"},
     "encoding": {
      "x": {"field": "t", "type": "quantitative", "scale": {"domain": [3020, 19740], "nice": false, "zero": false},
        "axis": {"title": "Time of Flight /Microsec", "tickCount": 500, "values": [3500,4000,4500,5000,5500,6000,6500,7000,7500,8000,8500,9000,9500,10000,10500,11000,11500,12000,12500,13000,13500,14000,14500,15000,15500,16000,16500,17000,17500,18000,18500,19000,19500], "labelExpr": "(datum.value % 2000 == 0) ? format(datum.value, ',') : ''", "labelOverlap": false, "labelFontSize": 18, "titleFontSize": 20, "tickSize": 4, "labelPadding": 3, "titlePadding": 3, "domainWidth": 2, "tickWidth": 1}},
      "y": {"field": "f", "type": "quantitative", "scale": {"domain": [-0.65, 11.1], "nice": false, "zero": false},
        "axis": {"title": "Counts", "tickCount": 500, "values": [-0.6,-0.4,-0.2,0,0.2,0.4,0.6,0.8,1,1.2,1.4,1.6,1.8,2,2.2,2.4,2.6,2.8,3,3.2,3.4,3.6,3.8,4,4.2,4.4,4.6,4.8,5,5.2,5.4,5.6,5.8,6,6.2,6.4,6.6,6.8,7,7.2,7.4,7.6,7.8,8,8.2,8.4,8.6,8.8,9,9.2,9.4,9.6,9.8,10,10.2,10.4,10.6,10.8,11], "labelExpr": "(abs(datum.value - round(datum.value)) < 0.001) ? ('' + round(datum.value)) : ''", "labelOverlap": false, "tickSize": {"condition": {"test": "abs(datum.value - round(datum.value)) < 0.001", "value": 5}, "value": 3}, "labelFontSize": 17, "titleFontSize": 20, "labelPadding": 3, "titlePadding": 4, "minExtent": 27, "maxExtent": 27, "domainWidth": 1.5}}}},
    {"data": {"name": "db"}, "mark": {"type": "rule", "color": "#8f8f8f", "strokeWidth": 1},
     "encoding": {"y": {"datum": 0, "type": "quantitative"}}},
    {"data": {"name": "db"}, "mark": {"type": "line", "color": "#6a6a6a", "strokeWidth": 1.1},
     "encoding": {"x": {"field": "t", "type": "quantitative"}, "y": {"field": "d", "type": "quantitative", "title": "Counts"}}},
    {"data": {"name": "b"}, "mark": {"type": "line", "color": "#2a40ad", "strokeWidth": 2.4, "interpolate": "monotone"},
     "encoding": {"x": {"field": "t", "type": "quantitative"}, "y": {"field": "o", "type": "quantitative", "title": "Counts"}}},
    {"data": {"name": "b"}, "mark": {"type": "line", "color": "#f3672b", "strokeWidth": 1.4, "interpolate": "monotone"},
     "encoding": {"x": {"field": "t", "type": "quantitative"}, "y": {"field": "f", "type": "quantitative", "title": "Counts"}}},
    {"data": {"name": "lb"}, "mark": {"type": "text", "fontSize": 20, "color": "#111111", "font": "Liberation Sans"},
     "encoding": {"x": {"field": "t", "type": "quantitative"}, "y": {"field": "v", "type": "quantitative", "title": "Counts"}, "text": {"field": "s"}}}
  ]
}
]
}
